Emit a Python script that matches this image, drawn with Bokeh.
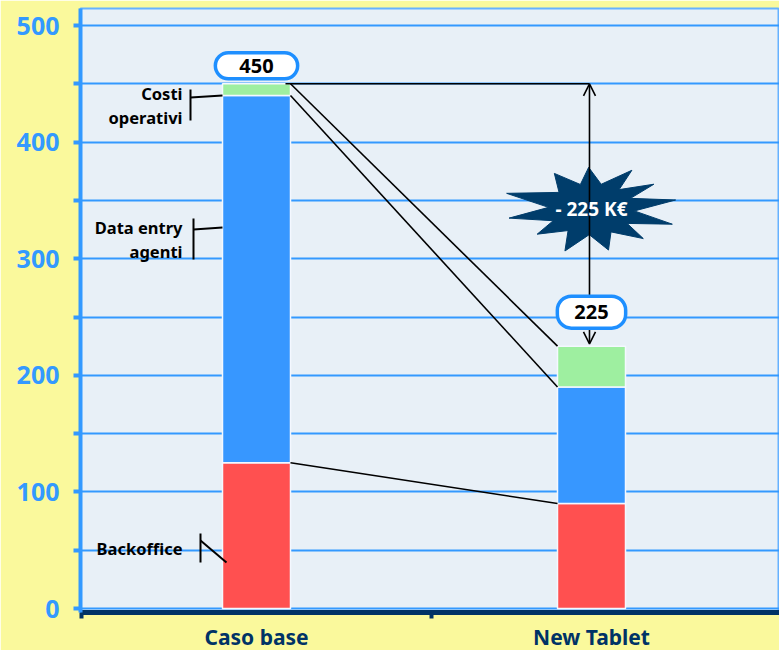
import numpy as np
from bokeh.plotting import figure
from bokeh.models import (FixedTicker, Label, Arrow, OpenHead, ColumnDataSource, Range1d)
from bokeh.core.properties import value
from bokeh.embed import file_html
from bokeh.resources import INLINE

# ---------------- data ----------------
categories = ["Caso base", "New Tablet"]
segments = ["Backoffice", "Data entry agenti", "Costi operativi"]
backoffice = [125, 90]
data_entry = [315, 100]
costi_operativi = [10, 35]
total_labels = ["450", "225"]
delta_label = "- 225 K€"
y_ticks = [0, 100, 200, 300, 400, 500]
y_minor = [50, 150, 250, 350, 450]
segment_labels = [["Backoffice"], ["Data entry", "agenti"], ["Costi", "operativi"]]

# ---------------- style ----------------
colors = ["#FF5050", "#3797FF", "#9EEFA0"]
BLUE = "#3399FF"
NAVY = "#003366"
FONT = "Noto Sans"
bar_w = 0.203

xs = list(range(len(categories)))
totals = [a + b + c for a, b, c in zip(backoffice, data_entry, costi_operativi)]

px_x = 335.0    # px per x unit
px_y = 1.166    # px per y unit
x0, x1 = -176 / px_x, 1 + 188 / px_x
y0, y1 = -4 / px_y, 600 / px_y
frame_w = int(round((x1 - x0) * px_x))
frame_h = int(round((y1 - y0) * px_y))

p = figure(frame_width=frame_w, frame_height=frame_h,
           x_range=Range1d(x0, x1), y_range=Range1d(y0, y1),
           output_backend="svg", toolbar_location=None,
           min_border_left=80, min_border_right=0, min_border_top=8, min_border_bottom=0,
           background_fill_color="#E8F0F7", border_fill_color="#FAF99C")
p.outline_line_color = "#66B2FF"
p.outline_line_width = 2

# grid
p.xgrid.grid_line_color = None
p.ygrid.ticker = FixedTicker(ticks=sorted(y_ticks + y_minor))
p.ygrid.grid_line_color = BLUE
p.ygrid.grid_line_width = 2

# y axis
p.yaxis.ticker = FixedTicker(ticks=y_ticks, minor_ticks=y_minor)
p.yaxis.axis_line_color = BLUE
p.yaxis.axis_line_width = 4
p.yaxis.major_tick_line_color = BLUE
p.yaxis.minor_tick_line_color = BLUE
p.yaxis.major_tick_line_width = 4
p.yaxis.minor_tick_line_width = 4
p.yaxis.major_tick_out = 7
p.yaxis.major_tick_in = 0
p.yaxis.minor_tick_out = 7
p.yaxis.minor_tick_in = 0
p.yaxis.major_label_text_color = BLUE
p.yaxis.major_label_text_font = FONT
p.yaxis.major_label_text_font_style = "bold"
p.yaxis.major_label_text_font_size = "25px"
p.yaxis.major_label_standoff = 14

# x axis
p.xaxis.ticker = FixedTicker(ticks=xs, minor_ticks=[x0 + 0.004, 0.522])
p.xaxis.major_label_overrides = {i: c for i, c in zip(xs, categories)}
p.xaxis.axis_line_color = NAVY
p.xaxis.axis_line_width = 5
p.xaxis.major_tick_line_color = None
p.xaxis.major_tick_out = 0
p.xaxis.major_tick_in = 0
p.xaxis.minor_tick_line_color = NAVY
p.xaxis.minor_tick_line_width = 4
p.xaxis.minor_tick_out = 6
p.xaxis.minor_tick_in = 0
p.xaxis.major_label_text_color = NAVY
p.xaxis.major_label_text_font = FONT
p.xaxis.major_label_text_font_style = "bold"
p.xaxis.major_label_text_font_size = "21px"
p.xaxis.major_label_standoff = 4

# star burst (behind everything else)
star_angles = [12, 38, 62, 92, 118, 160, 192, 222, 252, 282, 312, 340]
star_scale = [1.0, 0.92, 1.0, 0.95, 0.92, 1.05, 0.98, 0.85, 1.0, 0.95, 0.9, 1.0]
rx, ry = 86, 44
sx, sy = [], []
n = len(star_angles)
for i, (a, s) in enumerate(zip(star_angles, star_scale)):
    ar = np.radians(a)
    sx.append(rx * s * np.cos(ar)); sy.append(ry * s * np.sin(ar))
    nxt = star_angles[(i + 1) % n] + (360 if i == n - 1 else 0)
    a2 = np.radians((a + nxt) / 2)
    sx.append(rx * 0.5 * np.cos(a2)); sy.append(ry * 0.58 * np.sin(a2))
star_cx = xs[1]
star_cy = (totals[0] + totals[1]) / 2 + 5
p.patch([star_cx + v / px_x for v in sx], [star_cy + v / px_y for v in sy],
        fill_color="#003D6B", line_color="#003D6B")

# stacked bars
source = ColumnDataSource(dict(x=xs, **{segments[0]: backoffice, segments[1]: data_entry,
                                         segments[2]: costi_operativi}))
p.vbar_stack(segments, x="x", width=bar_w, color=colors, source=source,
             line_color="#F4F8FF", line_width=1.5)

# connectors between stacks
cum_base = np.cumsum([backoffice[0], data_entry[0], costi_operativi[0]])
cum_new = np.cumsum([backoffice[1], data_entry[1], costi_operativi[1]])
p.segment(x0=[xs[0] + bar_w / 2] * 3, y0=list(cum_base),
          x1=[xs[1] - bar_w / 2] * 3, y1=list(cum_new),
          line_color="black", line_width=1.6)
p.segment(x0=[xs[0] + bar_w / 2 - 0.015], y0=[totals[0]], x1=[xs[1] - 0.006], y1=[totals[0]],
          line_color="black", line_width=1.6)

p.add_layout(Arrow(x_start=xs[1] - 0.006, y_start=totals[1] + 2, x_end=xs[1] - 0.006, y_end=totals[0],
                   start=OpenHead(size=12, line_width=1.6), end=OpenHead(size=12, line_width=1.6),
                   line_width=1.6, line_color="black"))

# total boxes
for xi, t, lab, off, pad in zip(xs, totals, total_labels, [18, 34], [(24, 6), (17, 9)]):
    p.add_layout(Label(x=xi, y=t, y_offset=off, text=lab, text_align="center", text_baseline="middle",
                       text_font=FONT, text_font_style="bold", text_font_size="20px", text_color="black",
                       background_fill_color="white", border_line_color="#1E8FFF", border_line_width=3.5,
                       border_radius=14, padding=dict(left=pad[0], right=pad[0], top=pad[1], bottom=pad[1])))

p.add_layout(Label(x=star_cx, y=star_cy, text=delta_label, text_align="center", text_baseline="middle",
                   text_font=FONT, text_font_style="bold", text_font_size="19px", text_color="white"))

# segment call-outs (left of the base bar)
def X(px):
    return xs[0] + (px - 256) / px_x

def Y(py):
    return (608 - py) / px_y

txt_x, txt_y, txt = [], [], []
rows = [[548], [227, 251], [93, 117]]
for lines, ys in zip(segment_labels, rows):
    for t, yy in zip(lines, ys):
        txt_x.append(X(182)); txt_y.append(Y(yy)); txt.append(t)
p.text(x=txt_x, y=txt_y, text=txt, text_align="right", text_baseline="middle",
       text_font=value(FONT), text_font_style="bold", text_font_size="16.5px", text_color="black")

br_x0 = [X(190), X(190), X(193), X(193), X(200), X(200)]
br_y0 = [Y(89), Y(97), Y(218), Y(229), Y(533), Y(540)]
br_x1 = [X(190), X(222), X(193), X(222), X(200), X(226)]
br_y1 = [Y(120), Y(95), Y(259), Y(227), Y(562), Y(562)]
p.segment(x0=br_x0, y0=br_y0, x1=br_x1, y1=br_y1, line_color="black", line_width=2)

open("out.html", "w").write(file_html(p, INLINE))
